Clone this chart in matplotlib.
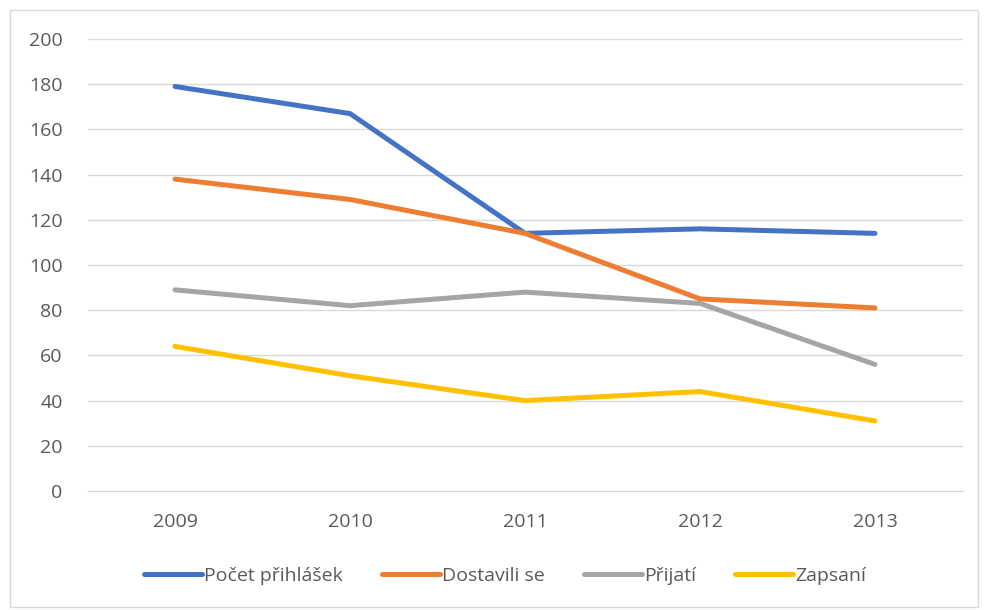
import matplotlib
matplotlib.use("Agg")
import matplotlib.pyplot as plt
from matplotlib.patches import Rectangle

years = ["2009", "2010", "2011", "2012", "2013"]
prihlasek = [179, 167, 114, 116, 114]
dostavili = [138, 129, 114, 85, 81]
prijati = [89, 82, 88, 83, 56]
zapsani = [64, 51, 40, 44, 31]

series = [
    ("Počet přihlášek", prihlasek, "#4472C4"),
    ("Dostavili se", dostavili, "#ED7D31"),
    ("Přijatí", prijati, "#A5A5A5"),
    ("Zapsaní", zapsani, "#FFC000"),
]

plt.rcParams['font.family'] = ['Open Sans', 'DejaVu Sans']
fig = plt.figure(figsize=(9.88, 6.10), dpi=100)
W, H = 988, 610
ax = fig.add_axes([87.5 / W, 1 - 491 / H, (962.5 - 87.5) / W, (491 - 39) / H])

x = list(range(len(years)))
for name, vals, col in series:
    ax.plot(x, vals, color=col, lw=3.6, label=name, solid_capstyle='round', solid_joinstyle='round')

ax.set_xlim(-0.5, len(years) - 0.5)
ax.set_ylim(0, 200)
ax.set_yticks(range(0, 201, 20))
ax.set_xticks(x)
ax.set_xticklabels(years)
ax.grid(axis='y', color='#D9D9D9', lw=1)
ax.set_axisbelow(True)
for s in ['top', 'right', 'left']:
    ax.spines[s].set_visible(False)
ax.spines['bottom'].set_color('#D9D9D9')
ax.tick_params(axis='both', length=0, labelsize=14, colors='#595959')
ax.tick_params(axis='y', pad=18)
ax.tick_params(axis='x', pad=16)

leg = fig.legend(loc='center', bbox_to_anchor=(505 / W, 1 - 576 / H), ncol=4, frameon=False,
                 fontsize=14, handlelength=3.0, columnspacing=2.0, handletextpad=0.1)
for t in leg.get_texts():
    t.set_color('#595959')

fig.patches.append(Rectangle((10 / W, 1 - 607 / H), (978 - 10) / W, (607 - 10) / H,
                             transform=fig.transFigure, fill=False, edgecolor='#D9D9D9', lw=1))

fig.savefig("out.png", dpi=100)
